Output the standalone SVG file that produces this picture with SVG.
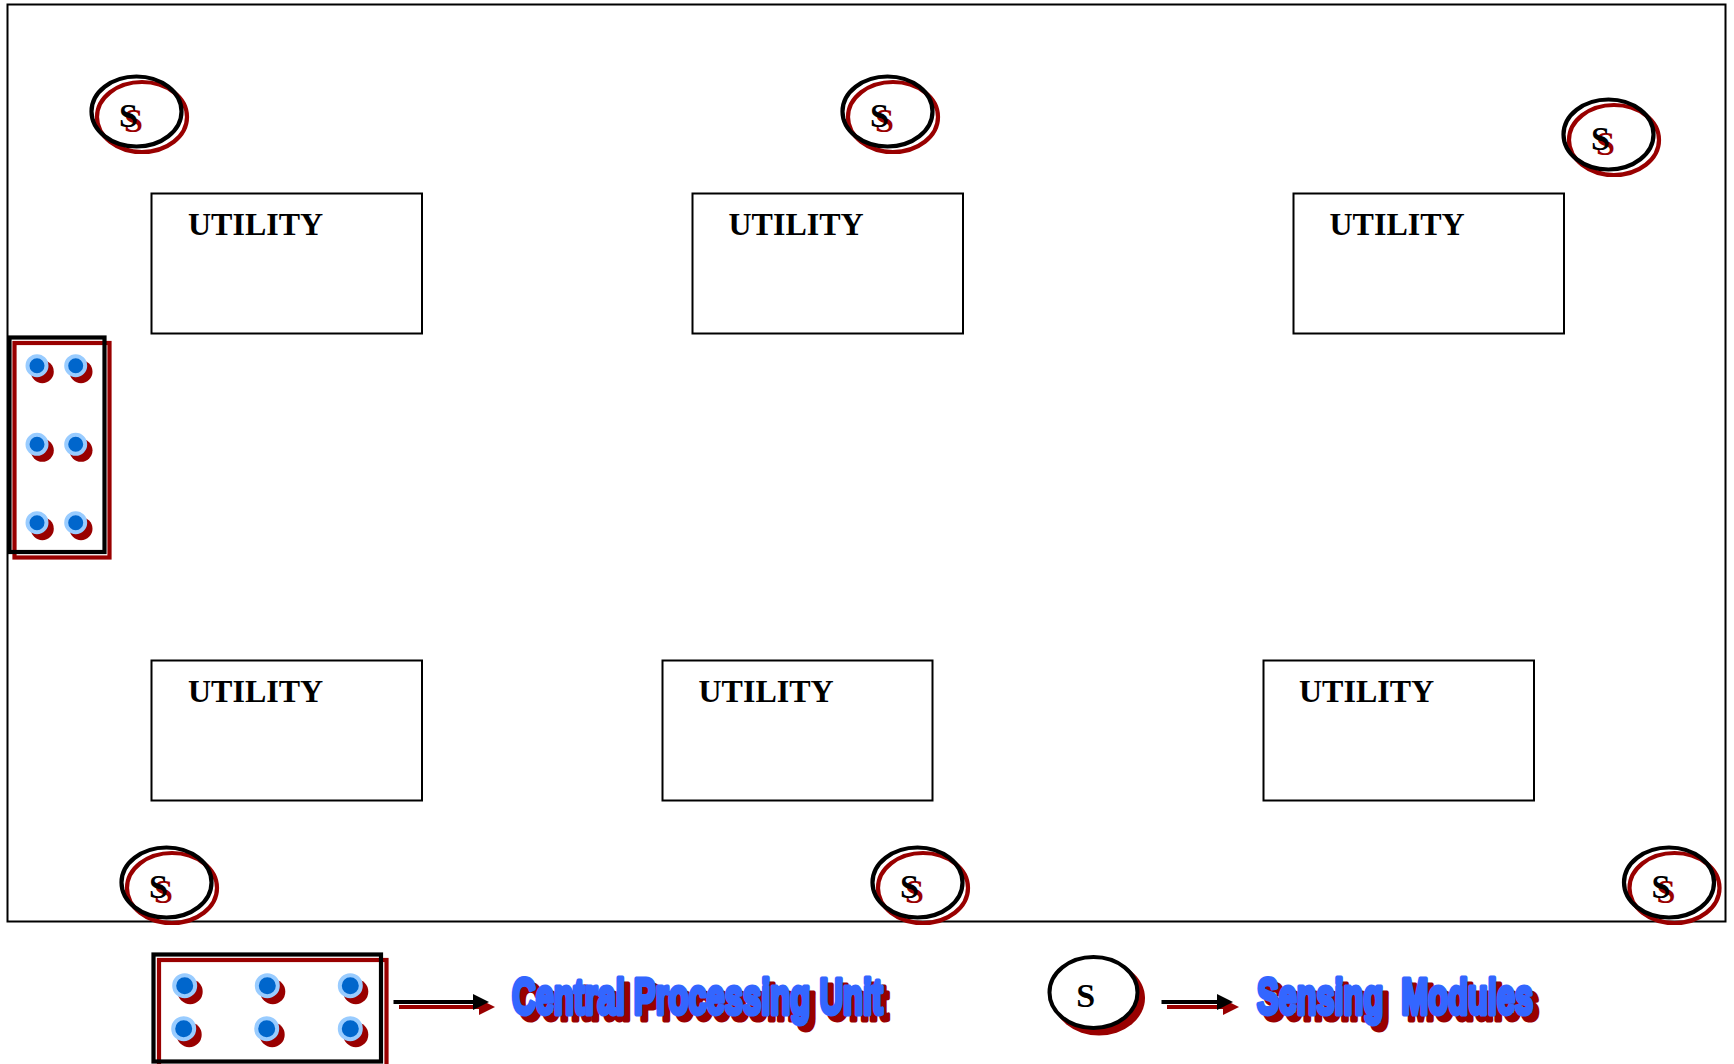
<svg xmlns="http://www.w3.org/2000/svg" width="1734" height="1064" viewBox="0 0 1734 1064">
<style>
.frame{fill:none;stroke:#000;stroke-width:2}
.box{fill:#fff;stroke:#000;stroke-width:2}
.ut{font:bold 32px "Liberation Serif",serif;fill:#000}
.s{font:bold 34px "Liberation Serif",serif;text-anchor:middle}
.blk{fill:none;stroke:#000;stroke-width:4.2}
.red{fill:none;stroke:#990000;stroke-width:4.2}
.tb{fill:#000}.tr{fill:#990000}
.dotS{fill:#990000}
.dot{fill:#0066cc;stroke:#99ccff;stroke-width:4}
.lab{font:bold 50px "Liberation Sans",sans-serif;white-space:pre;stroke-width:5;stroke-linejoin:round}
.labB{fill:#3366ff;stroke:#3366ff}
.labR{fill:#990000;stroke:#990000}
</style>
<defs>
<marker id="hb" markerUnits="userSpaceOnUse" markerWidth="16" markerHeight="16" refX="0" refY="8" orient="auto"><path d="M0 0L16 8L0 16Z" fill="#000"/></marker>
<marker id="hr" markerUnits="userSpaceOnUse" markerWidth="16" markerHeight="16" refX="0" refY="8" orient="auto"><path d="M0 0L16 8L0 16Z" fill="#990000"/></marker>
<g id="d1"><circle class="dotS" cx="5.3" cy="6" r="11.5"/><circle class="dot" r="9.5"/></g>
<g id="d2"><circle class="dotS" cx="5.5" cy="6" r="12.5"/><circle class="dot" r="10.5"/></g>
</defs>
<rect id="frame" class="frame" x="7.5" y="4.5" width="1718" height="917"/>

<g id="utility-1"><rect class="box" x="151.5" y="193.5" width="270.5" height="140"/><text class="ut" x="188" y="234.5">UTILITY</text></g>
<g id="utility-2"><rect class="box" x="692.5" y="193.5" width="270.5" height="140"/><text class="ut" x="728.5" y="234.5">UTILITY</text></g>
<g id="utility-3"><rect class="box" x="1293.5" y="193.5" width="270.5" height="140"/><text class="ut" x="1329.5" y="234.5">UTILITY</text></g>
<g id="utility-4"><rect class="box" x="151.5" y="660.5" width="270.5" height="140"/><text class="ut" x="188" y="701.5">UTILITY</text></g>
<g id="utility-5"><rect class="box" x="662.5" y="660.5" width="270" height="140"/><text class="ut" x="698.5" y="701.5">UTILITY</text></g>
<g id="utility-6"><rect class="box" x="1263.5" y="660.5" width="270.5" height="140"/><text class="ut" x="1299" y="701.5">UTILITY</text></g>

<g id="sensor-1" transform="translate(136.5 111.5)"><ellipse class="red" cx="5.5" cy="5.5" rx="45" ry="35"/><ellipse class="blk" rx="45" ry="35"/><text class="s tr" x="-3" y="20.5">S</text><text class="s tb" x="-8" y="15.5">S</text></g>
<g id="sensor-2" transform="translate(887.5 111.5)"><ellipse class="red" cx="5.5" cy="5.5" rx="45" ry="35"/><ellipse class="blk" rx="45" ry="35"/><text class="s tr" x="-3" y="20.5">S</text><text class="s tb" x="-8" y="15.5">S</text></g>
<g id="sensor-3" transform="translate(1608.5 134.5)"><ellipse class="red" cx="5.5" cy="5.5" rx="45" ry="35"/><ellipse class="blk" rx="45" ry="35"/><text class="s tr" x="-3" y="20.5">S</text><text class="s tb" x="-8" y="15.5">S</text></g>
<g id="sensor-4" transform="translate(166.5 882.5)"><ellipse class="red" cx="5.5" cy="5.5" rx="45" ry="35"/><ellipse class="blk" rx="45" ry="35"/><text class="s tr" x="-3" y="20.5">S</text><text class="s tb" x="-8" y="15.5">S</text></g>
<g id="sensor-5" transform="translate(917.5 882.5)"><ellipse class="red" cx="5.5" cy="5.5" rx="45" ry="35"/><ellipse class="blk" rx="45" ry="35"/><text class="s tr" x="-3" y="20.5">S</text><text class="s tb" x="-8" y="15.5">S</text></g>
<g id="sensor-6" transform="translate(1669 882.5)"><ellipse class="red" cx="5.5" cy="5.5" rx="45" ry="35"/><ellipse class="blk" rx="45" ry="35"/><text class="s tr" x="-3" y="20.5">S</text><text class="s tb" x="-8" y="15.5">S</text></g>

<g id="cpu">
<rect class="red" x="14.5" y="343" width="95" height="214.5"/>
<rect class="blk" x="9.5" y="337.5" width="95" height="214.5"/>
<use href="#d1" x="37" y="365.7"/><use href="#d1" x="75.7" y="365.7"/>
<use href="#d1" x="37" y="444.3"/><use href="#d1" x="75.7" y="444.3"/>
<use href="#d1" x="37" y="522.7"/><use href="#d1" x="75.7" y="522.7"/>
</g>

<g id="legend-cpu">
<rect class="red" x="159" y="960" width="227.5" height="112"/>
<rect class="blk" x="153.5" y="954.5" width="227.5" height="107"/>
<use href="#d2" x="184.7" y="985.7"/><use href="#d2" x="267.3" y="985.7"/><use href="#d2" x="350.3" y="985.7"/>
<use href="#d2" x="183.7" y="1028.7"/><use href="#d2" x="266.7" y="1028.7"/><use href="#d2" x="350.3" y="1028.7"/>
</g>
<g id="legend-cpu-label">
<text class="lab labR" x="518" y="1020" textLength="371" lengthAdjust="spacingAndGlyphs">Central Processing Unit</text>
<text class="lab labB" x="512" y="1014" textLength="371" lengthAdjust="spacingAndGlyphs">Central Processing Unit</text>
</g>

<g id="legend-sensor">
<ellipse cx="1099" cy="998" rx="46" ry="37.5" fill="#990000"/>
<ellipse cx="1093.5" cy="992.5" rx="44" ry="35.5" fill="#fff" stroke="#000" stroke-width="4"/>
<text class="s tb" x="1085.7" y="1006.5">S</text>
</g>
<g id="legend-sensor-label">
<text class="lab labR" x="1263" y="1020" textLength="276" lengthAdjust="spacingAndGlyphs" xml:space="preserve">Sensing  Modules</text>
<text class="lab labB" x="1257" y="1014" textLength="276" lengthAdjust="spacingAndGlyphs" xml:space="preserve">Sensing  Modules</text>
</g>

<g id="connectors" fill="none" stroke-width="4">
<line x1="399" y1="1007" x2="479" y2="1007" stroke="#990000" marker-end="url(#hr)"/>
<line x1="393.5" y1="1002" x2="473" y2="1002" stroke="#000" marker-end="url(#hb)"/>
<line x1="1167" y1="1007" x2="1223" y2="1007" stroke="#990000" marker-end="url(#hr)"/>
<line x1="1161.5" y1="1002" x2="1217" y2="1002" stroke="#000" marker-end="url(#hb)"/>
</g>
</svg>
